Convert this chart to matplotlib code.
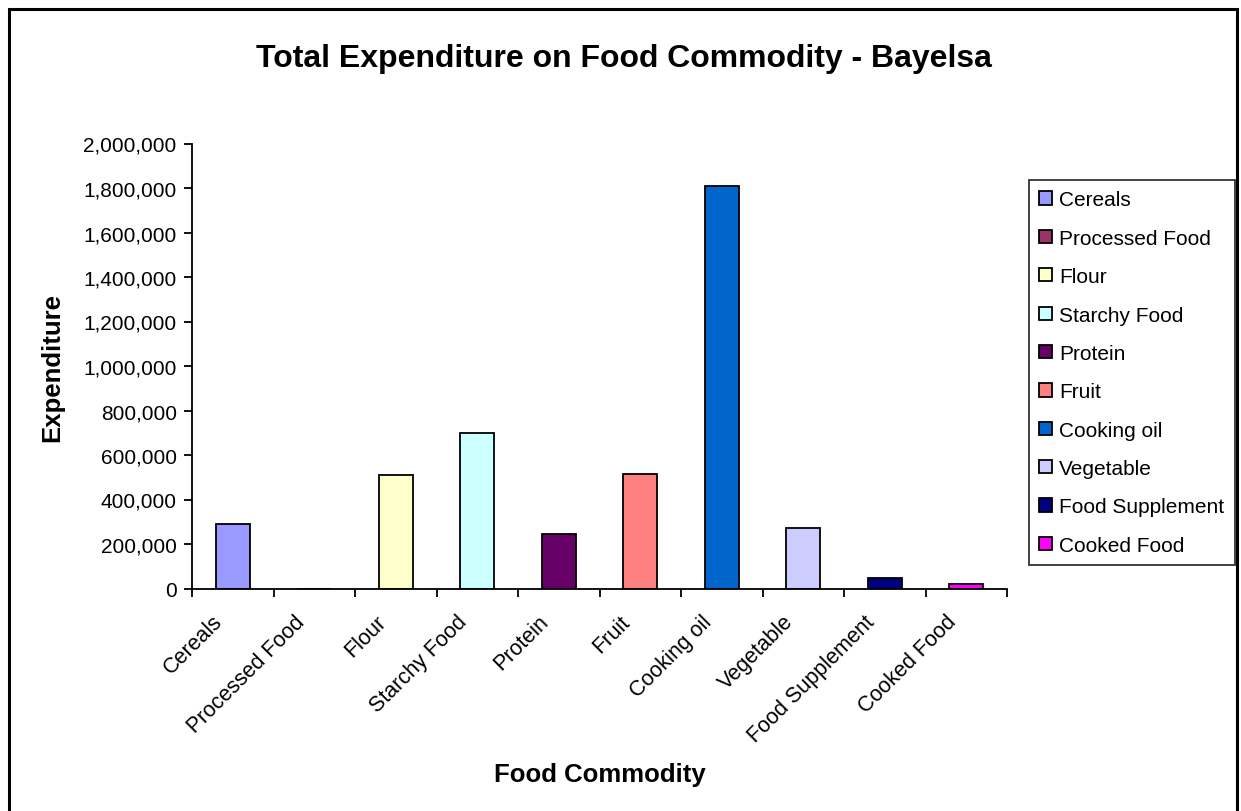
"""Bar chart of total food commodity expenditure for Bayelsa."""

import matplotlib.pyplot as plt
from matplotlib.patches import Rectangle
from matplotlib.ticker import FuncFormatter, FixedLocator

plt.rcParams["font.family"] = ["Liberation Sans", "DejaVu Sans"]

commodities = [
    "Cereals",
    "Processed Food",
    "Flour",
    "Starchy Food",
    "Protein",
    "Fruit",
    "Cooking oil",
    "Vegetable",
    "Food Supplement",
    "Cooked Food",
]
expenditure = [288000, 0, 512000, 701000, 243000, 513000, 1807000, 270000, 45000, 18000]
bar_colors = [
    "#9999FF",
    "#993366",
    "#FFFFCC",
    "#CCFFFF",
    "#660066",
    "#FF8080",
    "#0066CC",
    "#CCCCFF",
    "#000080",
    "#FF00FF",
]
y_ticks = list(range(0, 2000001, 200000))

W, H = 1241, 812
fig = plt.figure(figsize=(W / 100, H / 100), dpi=100)

# outer chart-area frame
frame = Rectangle((9 / W, -0.05), (1237 - 9) / W, 1.05 - 10 / H,
                  transform=fig.transFigure, fill=False, edgecolor="black",
                  linewidth=2.2, zorder=0)
fig.patches.append(frame)

ax = fig.add_axes([192 / W, 1 - 589.5 / H, (1007 - 192) / W, (589.5 - 144.5) / H])

x = list(range(len(commodities)))
handles = []
for xi, val, col, name in zip(x, expenditure, bar_colors, commodities):
    b = ax.bar(xi, val, width=0.42, color=col, edgecolor="black",
               linewidth=1.3, label=name)
    handles.append(b)

ax.set_xlim(-0.5, len(commodities) - 0.5)
ax.set_ylim(0, 2000000)
ax.set_yticks(y_ticks)
ax.yaxis.set_major_formatter(FuncFormatter(lambda v, _: f"{int(v):,}"))

# slanted labels sit a little left of each category centre
ax.set_xticks([xi - 0.25 for xi in x])
ax.set_xticklabels(commodities, rotation=45, ha="right", va="top",
                   rotation_mode="anchor", fontsize=15.5)
ax.xaxis.set_minor_locator(FixedLocator([i - 0.5 for i in range(len(commodities) + 1)]))
ax.tick_params(axis="x", which="major", length=0, pad=16)
ax.tick_params(axis="x", which="minor", length=6, width=1.3, direction="out")
ax.tick_params(axis="y", length=6, width=1.3, direction="out", labelsize=15, pad=5)

for side in ("top", "right"):
    ax.spines[side].set_visible(False)
for side in ("left", "bottom"):
    ax.spines[side].set_linewidth(1.3)

ax.set_ylabel("Expenditure", fontsize=18.5, fontweight="bold")
ax.yaxis.set_label_coords(-(192 - 52) / (1007 - 192), 0.5)
ax.set_xlabel("Food Commodity", fontsize=18.5, fontweight="bold")
ax.xaxis.set_label_coords(0.5, -(775 - 589.5) / (589.5 - 144.5))
ax.xaxis.label.set_va("center")
ax.yaxis.label.set_va("center")

fig.text(624 / W, 1 - 59 / H, "Total Expenditure on Food Commodity - Bayelsa",
         ha="center", va="center", fontsize=23, fontweight="bold")

leg = fig.legend(handles=handles, labels=commodities, loc="upper left",
                 bbox_to_anchor=(1029 / W, 1 - 181 / H), fontsize=15,
                 frameon=True, fancybox=False, edgecolor="black",
                 handlelength=0.6, handleheight=0.6, handletextpad=0.35,
                 labelspacing=0.93, borderpad=0.5, borderaxespad=0)
leg.get_frame().set_linewidth(1.3)

fig.savefig("out.png", dpi=100)
